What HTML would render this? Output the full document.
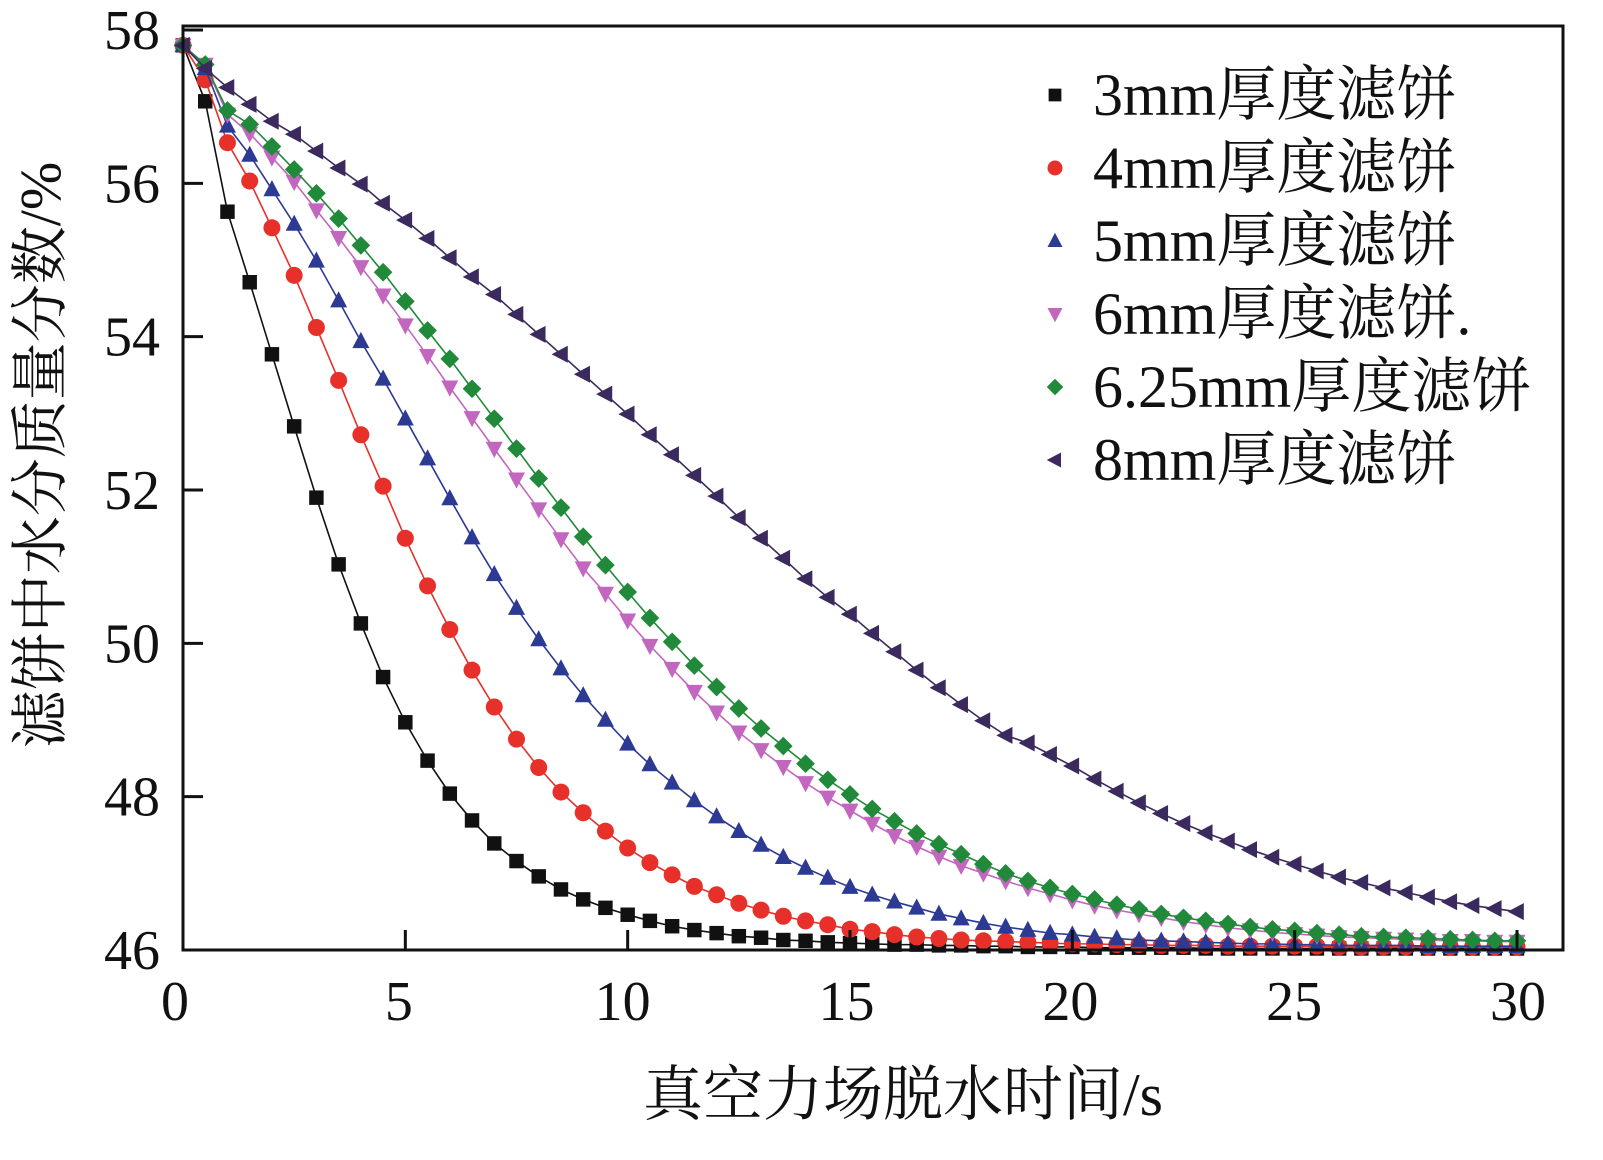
<!DOCTYPE html>
<html><head><meta charset="utf-8"><style>
html,body{margin:0;padding:0;background:#fff;}
svg text{font-family:"Liberation Serif","Noto Serif CJK SC","Noto Sans CJK SC",serif;fill:#111;}
</style></head><body>
<svg id="chart" width="1603" height="1155" viewBox="0 0 1603 1155" xmlns="http://www.w3.org/2000/svg">
<g id="plot"></g>
<g id="axes"></g>
<g id="legend"></g>
</svg>
<script>
const xTicks=[0,5,10,15,20,25,30];
const yTicks=[46,48,50,52,54,56,58];
const seriesNames=["3mm厚度滤饼","4mm厚度滤饼","5mm厚度滤饼","6mm厚度滤饼.","6.25mm厚度滤饼","8mm厚度滤饼"];
const seriesColors=["#111111","#e8302a","#2c3a94","#c266c0","#218a3a","#3b2a5e"];
const seriesMarkers=["square","circle","up","down","diamond","left"];
const s3=[57.8,57.07,55.63,54.71,53.77,52.83,51.9,51.03,50.26,49.56,48.97,48.47,48.04,47.69,47.39,47.16,46.96,46.79,46.66,46.55,46.46,46.38,46.31,46.26,46.22,46.18,46.16,46.13,46.12,46.1,46.09,46.08,46.07,46.07,46.06,46.06,46.05,46.05,46.04,46.04,46.04,46.03,46.03,46.03,46.03,46.03,46.02,46.02,46.02,46.02,46.02,46.02,46.02,46.02,46.02,46.02,46.02,46.02,46.02,46.02,46.02];
const s4=[57.8,57.35,56.53,56.03,55.42,54.8,54.12,53.43,52.72,52.05,51.37,50.75,50.18,49.65,49.17,48.75,48.38,48.06,47.79,47.55,47.33,47.14,46.98,46.83,46.72,46.61,46.52,46.44,46.38,46.33,46.27,46.24,46.2,46.17,46.15,46.13,46.12,46.11,46.1,46.09,46.08,46.08,46.07,46.07,46.06,46.06,46.06,46.05,46.05,46.05,46.05,46.05,46.04,46.04,46.04,46.04,46.04,46.04,46.04,46.04,46.04];
const s5=[57.8,57.5,56.75,56.37,55.92,55.47,54.99,54.47,53.94,53.45,52.93,52.41,51.89,51.38,50.9,50.46,50.05,49.67,49.32,49.0,48.69,48.42,48.18,47.95,47.74,47.55,47.37,47.21,47.07,46.94,46.82,46.72,46.63,46.55,46.47,46.41,46.35,46.3,46.26,46.22,46.2,46.17,46.15,46.13,46.12,46.11,46.1,46.09,46.08,46.08,46.07,46.07,46.06,46.06,46.06,46.06,46.05,46.05,46.05,46.05,46.05];
const s6=[57.8,57.55,56.9,56.65,56.34,56.02,55.65,55.29,54.91,54.54,54.15,53.75,53.34,52.94,52.54,52.14,51.75,51.36,50.98,50.65,50.3,49.97,49.67,49.37,49.1,48.84,48.61,48.39,48.18,47.99,47.82,47.65,47.49,47.35,47.22,47.1,47.0,46.9,46.81,46.73,46.65,46.58,46.52,46.47,46.42,46.37,46.33,46.29,46.26,46.23,46.21,46.19,46.17,46.16,46.15,46.14,46.13,46.12,46.12,46.11,46.11];
const s625=[57.8,57.55,56.95,56.77,56.48,56.18,55.87,55.54,55.19,54.84,54.46,54.08,53.71,53.32,52.93,52.54,52.15,51.77,51.39,51.02,50.67,50.33,50.02,49.71,49.43,49.15,48.89,48.66,48.43,48.22,48.03,47.84,47.68,47.52,47.38,47.25,47.12,47.0,46.9,46.81,46.73,46.66,46.59,46.53,46.47,46.42,46.38,46.34,46.3,46.27,46.25,46.22,46.2,46.18,46.17,46.16,46.15,46.14,46.13,46.12,46.12];
const s8=[57.8,57.5,57.25,57.03,56.81,56.64,56.42,56.2,55.99,55.74,55.52,55.28,55.03,54.78,54.55,54.29,54.03,53.77,53.51,53.25,52.99,52.72,52.46,52.19,51.92,51.64,51.37,51.11,50.84,50.6,50.38,50.13,49.89,49.65,49.42,49.2,48.99,48.8,48.7,48.55,48.4,48.23,48.07,47.92,47.78,47.65,47.53,47.42,47.31,47.21,47.12,47.03,46.95,46.88,46.81,46.75,46.69,46.63,46.58,46.54,46.5];
const seriesData=[s3,s4,s5,s6,s625,s8];
const timeStep=0.5;

const NS="http://www.w3.org/2000/svg";
const X0=183,X1=1517,Y58=30,Y46=950;
const xs=v=>X0+(X1-X0)*v/30;
const ys=v=>Y46-(Y46-Y58)*(v-46)/12;
function mk(tag,attrs,parent){const e=document.createElementNS(NS,tag);for(const k in attrs)e.setAttribute(k,attrs[k]);parent.appendChild(e);return e;}
function marker(type,cx,cy,r,color,parent){
  let e;
  if(type==="square")e=mk("rect",{x:cx-r*0.85,y:cy-r*0.85,width:r*1.7,height:r*1.7,fill:color},parent);
  else if(type==="circle")e=mk("circle",{cx:cx,cy:cy,r:r,fill:color},parent);
  else{
    let p;
    if(type==="up")p=[[cx,cy-r*1.1],[cx-r,cy+r*0.8],[cx+r,cy+r*0.8]];
    else if(type==="down")p=[[cx,cy+r*1.1],[cx-r,cy-r*0.8],[cx+r,cy-r*0.8]];
    else if(type==="diamond")p=[[cx,cy-r*1.1],[cx+r*1.1,cy],[cx,cy+r*1.1],[cx-r*1.1,cy]];
    else p=[[cx-r*1.1,cy],[cx+r*0.8,cy-r],[cx+r*0.8,cy+r]];
    e=mk("polygon",{points:p.map(q=>q.join(",")).join(" "),fill:color},parent);
  }
  return e;
}
const plot=document.getElementById("plot");
seriesData.forEach((d,si)=>{
  const g=mk("g",{},plot);
  
  
  const pts=d.map((v,i)=>xs(i*timeStep)+","+ys(v)).join(" ");
  const line=mk("polyline",{points:pts,fill:"none",stroke:seriesColors[si],"stroke-width":1.6},g);
  
  
  d.forEach((v,i)=>{
    const m=marker(seriesMarkers[si],xs(i*timeStep),ys(v),8.5,seriesColors[si],g);
    
    
  });
});
const axes=document.getElementById("axes");
const frame=mk("rect",{x:X0,y:26,width:1563-X0,height:Y46-26,fill:"none",stroke:"#111","stroke-width":3},axes);


xTicks.forEach(t=>{
  const tk=mk("line",{x1:xs(t),x2:xs(t),y1:Y46,y2:Y46-20,stroke:"#111","stroke-width":3},axes);
  
  
  const lb=mk("text",{x:175+(1518-175)*t/30,y:1020,"font-size":56,"text-anchor":"middle"},axes);
  lb.textContent=t;
  
  
});
yTicks.forEach(t=>{
  const tk=mk("line",{x1:X0,x2:X0+20,y1:ys(t),y2:ys(t),stroke:"#111","stroke-width":3},axes);
  
  
  const lb=mk("text",{x:160,y:ys(t)+19,"font-size":56,"text-anchor":"end"},axes);
  lb.textContent=t;
  
  
});
const xt=mk("text",{x:903,y:1115,"font-size":60,"text-anchor":"middle"},axes);
xt.textContent="真空力场脱水时间/s";


const yt=mk("text",{x:0,y:0,"font-size":58,"text-anchor":"middle",transform:"translate(60,455) rotate(-90)"},axes);
yt.textContent="滤饼中水分质量分数/%";


const leg=document.getElementById("legend");
seriesNames.forEach((n,i)=>{
  const cy=95+i*73;
  const g=mk("g",{},leg);
  
  
  marker(seriesMarkers[i],1055,cy,7.5,seriesColors[i],g);
  const t=mk("text",{x:1093,y:cy+20,"font-size":60},g);
  t.textContent=n;
});
</script>
</body></html>
